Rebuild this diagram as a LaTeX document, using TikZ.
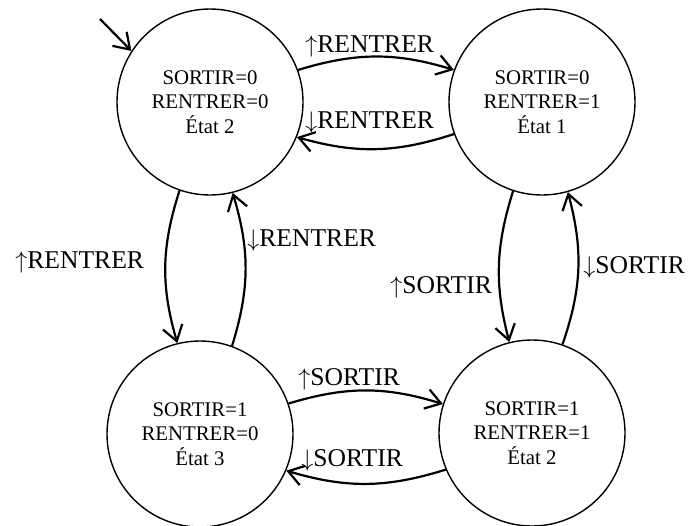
\documentclass[tikz,border=0pt]{standalone}
\usepackage{fontspec}
\setmainfont{Liberation Serif}
\usetikzlibrary{arrows.meta}

\begin{document}
\begin{tikzpicture}[x=0.5pt, y=-0.5pt,
    etat/.style={circle, draw, line width=0.7pt, minimum size=93pt, inner sep=0pt,
      align=center, font=\fontsize{10.4}{12.3}\selectfont},
    trans/.style={line width=1.1pt, -{Straight Barb[length=7.5pt, width=10pt]}},
    etiq/.style={anchor=base west, inner sep=0pt, font=\fontsize{12.8}{15}\selectfont},
  ]
  \useasboundingbox (0,0) rectangle (690,525);

  % Etats (SORTIR, RENTRER)
  \node[etat] (e00) at (210,102) {SORTIR=0\\RENTRER=0\\État 2};
  \node[etat] (e01) at (542,102) {SORTIR=0\\RENTRER=1\\État 1};
  \node[etat] (e10) at (200,434) {SORTIR=1\\RENTRER=0\\État 3};
  \node[etat] (e11) at (532,433) {SORTIR=1\\RENTRER=1\\État 2};

  % Etat initial
  \coordinate (debut) at (100,19);
  \draw[trans] (debut) -- (e00.147);

  % Transitions
  \draw[trans] (e00.20) to[bend left=17] (e01.160);
  \draw[trans] (e01.200) to[bend left=17] (e00.338);
  \draw[trans] (e00.251) to[bend right=17] (e10.104);
  \draw[trans] (e10.70) to[bend right=17] (e00.284);
  \draw[trans] (e01.252) to[bend right=16] (e11.104);
  \draw[trans] (e11.71) to[bend right=17] (e01.286);
  \draw[trans] (e10.19) to[bend left=17] (e11.162);
  \draw[trans] (e11.203) to[bend left=17] (e10.337);

  % Etiquettes
  \node[etiq] (l1) at (305,52) {$\uparrow$RENTRER};
  \node[etiq] (l2) at (305,128) {$\downarrow$RENTRER};
  \node[etiq] (l3) at (15,268) {$\uparrow$RENTRER};
  \node[etiq] (l4) at (247,246) {$\downarrow$RENTRER};
  \node[etiq] (l5) at (390,293) {$\uparrow$SORTIR};
  \node[etiq] (l6) at (583,273) {$\downarrow$SORTIR};
  \node[etiq] (l7) at (298,385) {$\uparrow$SORTIR};
  \node[etiq] (l8) at (301,466) {$\downarrow$SORTIR};
\end{tikzpicture}
\end{document}
